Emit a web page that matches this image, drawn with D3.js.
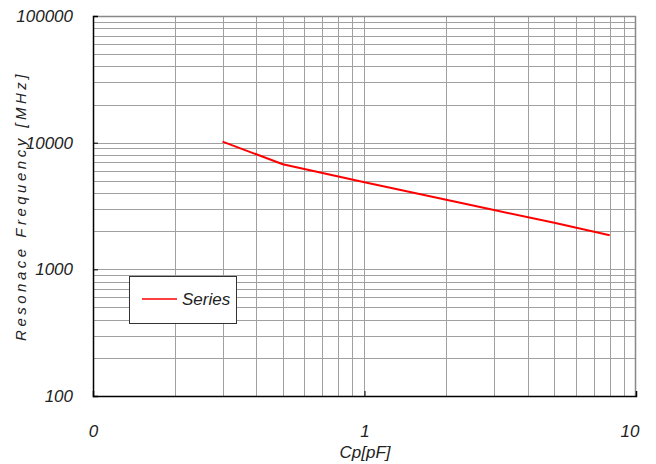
<!DOCTYPE html>
<html><head><meta charset="utf-8">
<script src="https://cdn.jsdelivr.net/npm/d3@7"></script>
<style>body{margin:0;background:#fff}svg{display:block}text{font-family:"Liberation Sans Narrow","Arial Narrow",sans-serif;font-style:italic;fill:#222}</style>
</head><body>
<svg id="c" width="656" height="464"></svg>
<script>
const capacitance = [0.3, 0.5, 1, 2, 3, 5, 8];
const frequency = [10200, 6750, 4870, 3540, 2940, 2330, 1860];
const xTickLabels = ["0", "1", "10"];
const xTickValues = [0.1, 1, 10];
const yTickValues = [100, 1000, 10000, 100000];
const yTickLabels = ["100", "1000", "10000", "100000"];
const seriesName = "Series";

const FONT = '"Liberation Sans Narrow","Arial Narrow",sans-serif';
const svg = d3.select("#c");
const L = 93, R = 636, T = 16, B = 396;
const x = d3.scaleLog().domain([0.1, 10]).range([L, R]);
const y = d3.scaleLog().domain([100, 100000]).range([B, T]);

const g = svg.append("g");
const xGrid = [];
for (let d = 0.1; d < 10; d *= 10) for (let k = 1; k <= 9; k++) { const v = +(d * k).toPrecision(3); if (v > 0.1 && v < 10) xGrid.push(v); }
const yGrid = [];
for (let d = 100; d < 100000; d *= 10) for (let k = 1; k <= 9; k++) { const v = d * k; if (v > 100 && v < 100000) yGrid.push(v); }
g.selectAll(".vx").data(xGrid).join("line")
  .attr("x1", d => Math.round(x(d)) + 0.5).attr("x2", d => Math.round(x(d)) + 0.5)
  .attr("y1", T).attr("y2", B).attr("stroke", "#a0a0a0").attr("stroke-width", 1);
g.selectAll(".hy").data(yGrid).join("line")
  .attr("y1", d => Math.round(y(d)) + 0.5).attr("y2", d => Math.round(y(d)) + 0.5)
  .attr("x1", L).attr("x2", R).attr("stroke", "#a0a0a0").attr("stroke-width", 1);
g.append("line").attr("x1", L).attr("x2", R).attr("y1", T + 0.5).attr("y2", T + 0.5).attr("stroke", "#888").attr("stroke-width", 1.5);
g.append("line").attr("x1", R - 0.5).attr("x2", R - 0.5).attr("y1", T).attr("y2", B).attr("stroke", "#888").attr("stroke-width", 1.5);

const xAxis = d3.axisBottom(x).tickValues(xTickValues).tickSize(-5).tickFormat((d, i) => xTickLabels[i]).tickPadding(0);
const ax = svg.append("g").attr("transform", `translate(0,${B})`).call(xAxis);
ax.select(".domain").attr("stroke", "#000").attr("stroke-width", 1.5);
ax.selectAll(".tick line").attr("stroke", "#000");
ax.selectAll(".tick text").attr("font-size", 17).attr("dy", 0).attr("y", 41).attr("fill", "#222")
  .attr("font-family", FONT).attr("font-style", "italic");
ax.selectAll(".tick").filter(d => d === 10).select("text").attr("text-anchor", "end").attr("x", 3);
const yAxis = d3.axisLeft(y).tickValues(yTickValues).tickSize(-5).tickFormat((d, i) => yTickLabels[i]).tickPadding(20);
const ay = svg.append("g").attr("transform", `translate(${L},0)`).call(yAxis);
ay.select(".domain").attr("stroke", "#000").attr("stroke-width", 1.5);
ay.selectAll(".tick line").attr("stroke", "#000");
ay.selectAll(".tick text").attr("font-size", 17).attr("fill", "#222")
  .attr("font-family", FONT).attr("font-style", "italic");

const pts = capacitance.map((c, i) => [c, frequency[i]]);
svg.append("path").datum(pts).attr("fill", "none").attr("stroke", "#ff0000").attr("stroke-width", 2)
  .attr("d", d3.line().x(d => x(d[0])).y(d => y(d[1])));

const lg = svg.append("g");
lg.append("rect").attr("x", 129.5).attr("y", 276.5).attr("width", 107).attr("height", 47).attr("fill", "#fff").attr("stroke", "#333").attr("stroke-width", 1);
lg.append("line").attr("x1", 142).attr("x2", 177).attr("y1", 299).attr("y2", 299).attr("stroke", "#ff0000").attr("stroke-width", 1.5);
lg.append("text").attr("x", 182).attr("y", 305).attr("font-size", 17).text(seriesName);

svg.append("text").attr("x", 365).attr("y", 458).attr("text-anchor", "middle").attr("font-size", 17).text("Cp[pF]");
svg.append("text").attr("transform", "translate(26,206) rotate(-90)").attr("text-anchor", "middle")
  .attr("font-family", '"Liberation Sans",Arial,sans-serif')
  .attr("font-size", 15).attr("letter-spacing", 3.5).text("Resonace Frequency [MHz]");
</script>
</body></html>
